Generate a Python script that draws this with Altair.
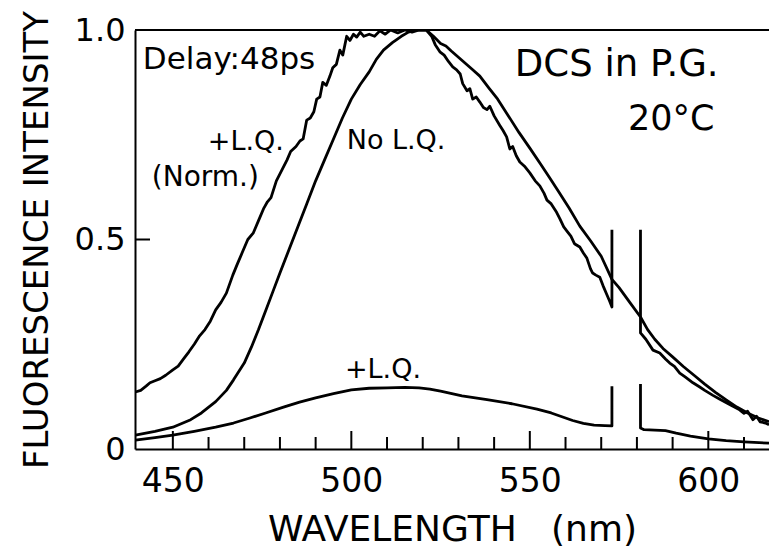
import altair as alt
import pandas as pd

# ---------------- data ----------------
NO_LQ = [(439.5,0.033),(445,0.042),(450,0.052),(455,0.07),(458,0.086),(462,0.113),(465,0.14),(467,0.165),
         (470,0.205),(472,0.243),(474,0.285),(476,0.33),(478,0.375),(480,0.42),(482.5,0.475),(485,0.53),
         (487.5,0.585),(490,0.64),(492.5,0.69),(495,0.74),(497.5,0.79),(500,0.835),(502.5,0.87),(505,0.9),
         (507,0.93),(509,0.952),(511.5,0.97),(514,0.985),(516,0.995),(518,1.0),(521,1.0),(523,0.985),
         (525,0.968),(526.5,0.962),(528,0.95),(530,0.935),(532,0.92),(534,0.905),(536,0.89),(538.5,0.862),
         (541,0.835),(544,0.795),(547,0.755),(550,0.718),(553,0.68),(555.5,0.648),(558,0.615),(561,0.575),
         (564,0.532),(567,0.497),(570,0.46),(573,0.405),(575,0.385),(578,0.35),(581,0.315),(583,0.285),
         (585,0.262),(587.3,0.24),(590,0.22),(593,0.197),(596,0.176),(599,0.155),(602,0.135),(605,0.117),
         (608,0.1),(611,0.086),(614,0.074),(617,0.065)]

LQ_NORM_A = [(439.5,0.136),(441,0.14),(442.5,0.15),(443.6,0.158),(445,0.163),(446.5,0.168),(448,0.176),
             (450,0.189),(451.5,0.198),(453,0.215),(454.5,0.232),(456,0.25),(457.5,0.27),(459,0.285),
             (460.5,0.305),(462,0.332),(463.5,0.35),(465,0.372),(466.8,0.415),(468,0.44),(469.5,0.47),
             (471,0.5),(472.5,0.515),(474,0.545),(475.5,0.575),(476.5,0.59),(477.5,0.6),(479,0.64),
             (480.5,0.665),(482,0.69),(483,0.71),(484.5,0.722),(485.6,0.735),(486.5,0.74),(487.5,0.785),
             (488.5,0.79),(489.5,0.805),(490.3,0.835),(491.2,0.84),(492,0.875),(493,0.868),(494,0.89),
             (494.8,0.91),(495.8,0.918),(496.8,0.952),(497.6,0.94),(498.7,0.985),(499.6,0.975),(500.6,0.99),
             (501.5,0.983),(502.5,0.995),(503.5,0.985),(505,0.99),(506.5,0.985),(508,0.998),(509.5,0.99),
             (511,1.0),(513,0.993),(515,1.0),(517,0.995),(519,1.0),(521,1.0),(522.5,0.985),(523.5,0.965),
             (524.8,0.948),(526,0.94),(527.2,0.925),(528.4,0.912),(529.5,0.905),(530.5,0.895),(531.2,0.872),
             (532.4,0.855),(533.2,0.86),(534,0.835),(535,0.84),(536,0.828),(537,0.815),(538,0.81),
             (538.8,0.818),(540,0.795),(541.6,0.772),(542.5,0.76),(543.5,0.745),(544.4,0.716),(545.2,0.722),
             (546.2,0.7),(547.2,0.685),(548.5,0.675),(550,0.659),(551.5,0.64),(552.8,0.628),(554,0.61),
             (554.8,0.594),(556,0.585),(557.5,0.565),(558.4,0.55),(559.5,0.53),(560.4,0.52),(561.5,0.508),
             (562.5,0.49),(564,0.482),(565,0.468),(566,0.455),(567,0.43),(567.6,0.42),(568.5,0.415),
             (569.6,0.41),(570.5,0.39),(571.5,0.37),(572.4,0.352),(573,0.339),(573,0.523)]

LQ_NORM_B = [(581,0.523),(581,0.277),(582.5,0.262),(584.5,0.236),(586.4,0.229),(588,0.215),(589.2,0.205),
             (590.5,0.197),(592,0.181),(593.5,0.172),(595.7,0.158),(597.6,0.148),(599,0.14),(601.3,0.128),
             (603,0.12),(605.2,0.11),(606.9,0.102),(608.5,0.095),(610,0.085),(611,0.09),(612.5,0.07),
             (613.5,0.078),(614.5,0.065),(616,0.062),(617,0.058)]

LQ_A = [(439.5,0.021),(445,0.027),(450,0.033),(456,0.042),(462,0.052),(467,0.062),(471.6,0.074),(476,0.086),
        (481,0.1),(485.5,0.112),(490,0.122),(495,0.132),(500,0.141),(505,0.145),(510,0.146),(515,0.147),
        (519,0.146),(522,0.143),(525,0.138),(531,0.127),(538,0.118),(545,0.108),(552,0.095),(556,0.086),
        (559,0.077),(562,0.068),(565,0.061),(568,0.057),(571,0.056),(573,0.055),(573,0.15)]

LQ_B = [(581,0.155),(581,0.05),(582,0.046),(585,0.045),(588,0.044),(591,0.038),(595,0.031),(600,0.024),
        (605,0.02),(610,0.017),(617,0.014)]

MAJOR_TICKS = [450, 500, 550, 600]
MINOR_TICKS = [460, 470, 480, 490, 510, 520, 530, 540, 560, 570, 580, 590, 610]
Y_TICKS = [0, 0.5, 1.0]
Y_INNER_TICKS = [0.5]

NB = "\u00a0"
ANNOT_TEXT = ["Delay:48ps", "+L.Q.", "(Norm.)", "No L.Q.", "DCS in P.G.", "20°C", "+L.Q."]
ANNOT_X = [441.6, 459.8, 444.1, 498.7, 545.8, 577.5, 498.2]
ANNOT_Y = [0.928, 0.733, 0.647, 0.735, 0.916, 0.788, 0.189]
ANNOT_SIZE = [31, 27, 28, 27, 37, 35, 27]

# ---------------- build ----------------
rows = []
for seg, pts in [("nolq", NO_LQ), ("norm_a", LQ_NORM_A), ("norm_b", LQ_NORM_B),
                 ("lq_a", LQ_A), ("lq_b", LQ_B)]:
    for i, (x, y) in enumerate(pts):
        rows.append({"seg": seg, "i": i, "wl": x, "inten": y})
df = pd.DataFrame(rows)

W, H = 634, 419
FONT = "DejaVu Sans"

xscale = alt.Scale(domain=[439.4, 617], nice=False, zero=False)
yscale = alt.Scale(domain=[0, 1], nice=False, zero=False)

xaxis = alt.Axis(values=MAJOR_TICKS, title="WAVELENGTH" + NB * 3 + "(nm)", labelFontSize=33,
                 titleFontSize=36, labelPadding=16, titlePadding=14, ticks=False,
                 tickSize=0, grid=False)
yaxis = alt.Axis(values=Y_TICKS, title="FLUORESCENCE INTENSITY", labelFontSize=32,
                 titleFontSize=34, labelPadding=10, titlePadding=20, ticks=False,
                 tickSize=0, grid=False,
                 labelExpr="datum.value == 0 ? '0' : format(datum.value, '.1f')")

lines = alt.Chart(df).mark_line(color="black", strokeWidth=2.8, strokeJoin="round", clip=True).encode(
    x=alt.X("wl:Q", scale=xscale, axis=xaxis),
    y=alt.Y("inten:Q", scale=yscale, axis=yaxis),
    detail="seg:N",
    order="i:Q",
)

major = alt.Chart(pd.DataFrame({"wl": MAJOR_TICKS})).mark_rule(color="black", strokeWidth=2).encode(
    x=alt.X("wl:Q", scale=xscale, axis=xaxis), y=alt.value(H), y2=alt.value(H - 18))
minor = alt.Chart(pd.DataFrame({"wl": MINOR_TICKS})).mark_rule(color="black", strokeWidth=2).encode(
    x=alt.X("wl:Q", scale=xscale, axis=xaxis), y=alt.value(H), y2=alt.value(H - 12))
ytick = alt.Chart(pd.DataFrame({"inten": Y_INNER_TICKS})).mark_rule(color="black", strokeWidth=2).encode(
    y=alt.Y("inten:Q", scale=yscale, axis=yaxis), x=alt.value(0), x2=alt.value(15))
top = alt.Chart(pd.DataFrame({"a": [0]})).mark_rule(color="black", strokeWidth=2).encode(
    x=alt.value(0), x2=alt.value(W), y=alt.value(0))

ann = pd.DataFrame({"text": ANNOT_TEXT, "wl": ANNOT_X, "inten": ANNOT_Y, "fs": ANNOT_SIZE})
texts = alt.Chart(ann).mark_text(align="left", baseline="middle", font=FONT, color="black").encode(
    x=alt.X("wl:Q", scale=xscale, axis=xaxis),
    y=alt.Y("inten:Q", scale=yscale, axis=yaxis),
    text="text:N",
    size=alt.Size("fs:Q", scale=None, legend=None),
)

chart = alt.layer(lines, major, minor, ytick, top, texts).properties(
    width=W, height=H,
    autosize=alt.AutoSizeParams(type="none"),
    padding={"left": 135, "top": 30, "right": 0, "bottom": 101},
    background="white",
).configure_view(stroke=None).configure_axis(
    domainColor="black", domainWidth=2, labelColor="black", titleColor="black",
    labelFont=FONT, titleFont=FONT, labelFontWeight="normal", titleFontWeight="normal",
)

chart.save("out.html", embed_options={"renderer": "svg", "actions": False})
